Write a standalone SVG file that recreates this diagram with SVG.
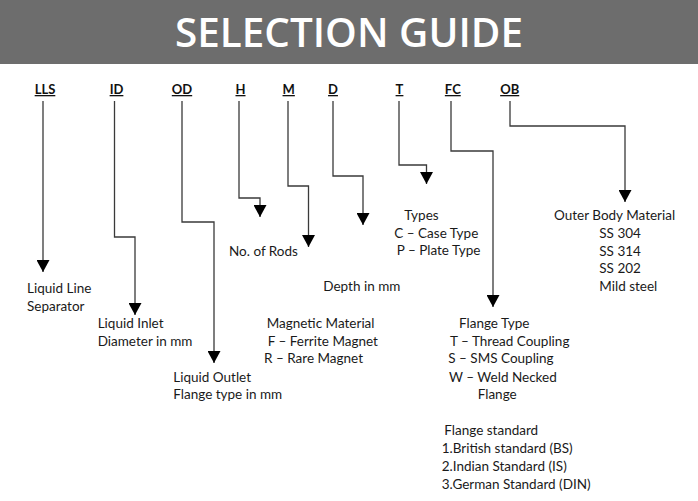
<svg xmlns="http://www.w3.org/2000/svg" width="698" height="501" viewBox="0 0 698 501">
<style>
.title{font-family:"Open Sans","Liberation Sans",sans-serif;font-weight:600;font-size:39px;fill:#ffffff}
.code{font-family:Lato,"Liberation Sans",sans-serif;font-weight:700;font-size:13px;fill:#111;text-decoration:underline;text-anchor:middle}
.t{font-family:Lato,"Liberation Sans",sans-serif;font-size:13.5px;fill:#1a1a1a}
.conn{fill:none;stroke:#3a3a3a;stroke-width:1.3}
</style>
<defs>
<marker id="arr" viewBox="0 0 12 13" refX="12" refY="6.5" markerWidth="12" markerHeight="13" markerUnits="userSpaceOnUse" orient="auto">
<path d="M0,0 L12,6.5 L0,13 Z" fill="#000"/>
</marker>
</defs>
<rect width="698" height="501" fill="#ffffff"/>
<g id="header">
<rect x="0" y="0" width="698" height="64" fill="#6d6d6d"/>
<text class="title" x="175" y="47" textLength="348" lengthAdjust="spacingAndGlyphs">SELECTION GUIDE</text>
</g>
<g id="codes">
<g id="code-LLS"><text class="code" x="45" y="94">LLS</text></g>
<g id="code-ID"><text class="code" x="116.5" y="94">ID</text></g>
<g id="code-OD"><text class="code" x="182" y="94">OD</text></g>
<g id="code-H"><text class="code" x="240.5" y="94">H</text></g>
<g id="code-M"><text class="code" x="288.7" y="94">M</text></g>
<g id="code-D"><text class="code" x="333" y="94">D</text></g>
<g id="code-T"><text class="code" x="399.5" y="94">T</text></g>
<g id="code-FC"><text class="code" x="452.8" y="94">FC</text></g>
<g id="code-OB"><text class="code" x="509.7" y="94">OB</text></g>
</g>
<g id="connectors">
<path class="conn" d="M43,101 V272" marker-end="url(#arr)"/>
<path class="conn" d="M114.5,101 V237 H135 V315" marker-end="url(#arr)"/>
<path class="conn" d="M182,101 V222 H214 V363" marker-end="url(#arr)"/>
<path class="conn" d="M239,101 V198 H260 V217" marker-end="url(#arr)"/>
<path class="conn" d="M288,101 V186 H308.5 V247" marker-end="url(#arr)"/>
<path class="conn" d="M333,101 V176 H363 V225" marker-end="url(#arr)"/>
<path class="conn" d="M399,101 V165 H426.5 V184" marker-end="url(#arr)"/>
<path class="conn" d="M451,101 V151 H493 V307" marker-end="url(#arr)"/>
<path class="conn" d="M510,101 V126 H625 V202" marker-end="url(#arr)"/>
</g>
<g id="desc-LLS">
<text class="t" x="27" y="293">Liquid Line</text>
<text class="t" x="27" y="311">Separator</text>
</g>
<g id="desc-ID">
<text class="t" x="97.7" y="328.3">Liquid Inlet</text>
<text class="t" x="97.7" y="346">Diameter in mm</text>
</g>
<g id="desc-OD">
<text class="t" x="173.3" y="381.7">Liquid Outlet</text>
<text class="t" x="173.3" y="399.3">Flange type in mm</text>
</g>
<g id="desc-H">
<text class="t" x="229" y="255.5">No. of Rods</text>
</g>
<g id="desc-M">
<text class="t" x="266.7" y="327.7">Magnetic Material</text>
<text class="t" x="267.7" y="345.5">F – Ferrite Magnet</text>
<text class="t" x="264" y="363">R – Rare Magnet</text>
</g>
<g id="desc-D">
<text class="t" x="323.3" y="291">Depth in mm</text>
</g>
<g id="desc-T">
<text class="t" x="404.3" y="220">Types</text>
<text class="t" x="394.3" y="237.7">C – Case Type</text>
<text class="t" x="396.7" y="255.3">P – Plate Type</text>
</g>
<g id="desc-FC">
<text class="t" x="459" y="327.5">Flange Type</text>
<text class="t" x="450" y="345.5">T – Thread Coupling</text>
<text class="t" x="448.3" y="363">S – SMS Coupling</text>
<text class="t" x="449" y="381.5">W – Weld Necked</text>
<text class="t" x="477.7" y="399.3">Flange</text>
<text class="t" x="444.3" y="435">Flange standard</text>
<text class="t" x="441.7" y="453">1.British standard (BS)</text>
<text class="t" x="441.7" y="471">2.Indian Standard (IS)</text>
<text class="t" x="441.7" y="489">3.German Standard (DIN)</text>
</g>
<g id="desc-OB">
<text class="t" x="554" y="220">Outer Body Material</text>
<text class="t" x="599.3" y="237.7">SS 304</text>
<text class="t" x="599.3" y="255.5">SS 314</text>
<text class="t" x="599.3" y="273">SS 202</text>
<text class="t" x="599.3" y="291">Mild steel</text>
</g>
</svg>
